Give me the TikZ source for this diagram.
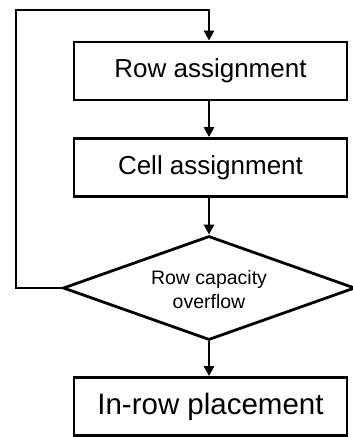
\documentclass[tikz,border=0pt]{standalone}
\usepackage{fontspec}
\setmainfont{Liberation Sans}
\usetikzlibrary{shapes.geometric,arrows.meta}
\tikzset{
  stepbox/.style={draw, line width=2.8pt, minimum width=273pt, minimum height=58pt, inner sep=0pt},
  decision/.style={draw, diamond, line width=2.8pt, minimum width=292pt, minimum height=104pt, inner sep=0pt, aspect=2.8},
  flow/.style={line width=2.8pt, -{Triangle[length=10pt,width=10pt]}},
}
\begin{document}
\begin{tikzpicture}[x=1pt,y=-1pt]
  \useasboundingbox (0,0) rectangle (353,437);
  \node[stepbox, font=\fontsize{26}{30}\selectfont] (row) at (210.5,71) {Row assignment};
  \node[stepbox, font=\fontsize{26}{30}\selectfont] (cell) at (210.5,167.5) {Cell assignment};
  \node[decision] (cap) at (209,288) {};
  \node[align=center, font=\fontsize{19.5}{24}\selectfont] (captext) at (209,290) {Row capacity\\overflow};
  \node[stepbox, font=\fontsize{29.5}{34}\selectfont] (place) at (210.5,406.5) {In-row placement};
  \coordinate (loopbot) at (16,288);
  \coordinate (looptop) at (16,10);
  \coordinate (entry) at (209,10);
  \draw[flow] (row.south -| cap.north) -- (cell.north -| cap.north);
  \draw[flow] (cell.south -| cap.north) -- (cap.north);
  \draw[flow] (cap.south) -- (place.north -| cap.south);
  \draw[flow] (cap.west) -- (loopbot) -- (looptop) -- (entry) -- (row.north -| entry);
\end{tikzpicture}
\end{document}
